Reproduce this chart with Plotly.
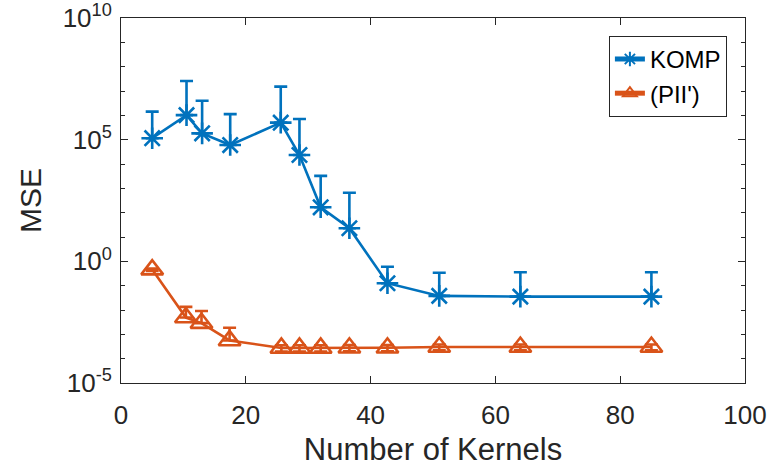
import plotly.graph_objects as go

# Number of kernels used by each method
komp_kernels = [5, 10.5, 13, 17.5, 25.6, 28.6, 32, 36.6, 42.7, 51, 64, 85]
pii_kernels = [5, 10.4, 12.9, 17.4, 25.7, 28.6, 32, 36.6, 42.7, 51, 64, 85]

# Mean squared error and upper spread, KOMP
komp_mse = [1.15e5, 1.02e6, 1.82e5, 6.0e4, 5.0e5, 2.34e4, 166, 22.9, 0.126, 0.038, 0.0355, 0.0355]
komp_err_up = [1.3e6, 2.47e7, 3.8e6, 1.06e6, 1.46e7, 6.85e5, 3070, 638, 0.477, 0.30, 0.32, 0.32]

# Mean squared error and spread, (PII')
pii_mse = [0.457, 4.9e-3, 2.9e-3, 5.6e-4, 2.75e-4, 2.75e-4, 2.75e-4, 2.8e-4, 2.8e-4, 3.0e-4, 3.0e-4, 3.0e-4]
pii_err_up = [0.05, 8.6e-3, 6.2e-3, 1.3e-3, 8e-5, 8e-5, 8e-5, 8e-5, 8e-5, 8e-5, 8e-5, 8e-5]
pii_err_down = [0.05, 0, 0, 0, 8e-5, 8e-5, 8e-5, 8e-5, 8e-5, 8e-5, 8e-5, 8e-5]

x_ticks = [0, 20, 40, 60, 80, 100]
y_major = [1e-5, 1e0, 1e5, 1e10]
y_major_text = ["10<sup>-5</sup>", "10<sup>0</sup>", "10<sup>5</sup>", "10<sup>10</sup>"]
y_minor = [10.0 ** k for k in range(-5, 11) if k % 5 != 0]

BLUE = "#0072BD"
ORANGE = "#D95319"
AXIS = "#262626"
FONT = "Liberation Sans, Arial, Helvetica, sans-serif"
LW = 2.6

fig = go.Figure()

fig.add_trace(go.Scatter(
    x=komp_kernels, y=komp_mse, name="KOMP",
    mode="lines+markers",
    line=dict(color=BLUE, width=LW),
    marker=dict(symbol="asterisk-open", size=18, color=BLUE,
                line=dict(color=BLUE, width=LW)),
    error_y=dict(type="data", symmetric=False, array=komp_err_up,
                 arrayminus=[0] * len(komp_err_up),
                 color=BLUE, thickness=LW, width=6.5),
))

fig.add_trace(go.Scatter(
    x=pii_kernels, y=pii_mse, name="(PII')",
    mode="lines+markers",
    line=dict(color=ORANGE, width=LW),
    marker=dict(symbol="triangle-up-open", size=19, color=ORANGE,
                line=dict(color=ORANGE, width=LW)),
    error_y=dict(type="data", symmetric=False, array=pii_err_up,
                 arrayminus=pii_err_down,
                 color=ORANGE, thickness=LW, width=6.5),
))

fig.update_layout(
    width=769, height=467,
    margin=dict(l=121, r=24, t=18, b=84, autoexpand=False),
    paper_bgcolor="white", plot_bgcolor="white",
    font=dict(family=FONT, color=AXIS),
    showlegend=True,
    legend=dict(
        x=0.971, y=0.951, xanchor="right", yanchor="top",
        bgcolor="white", bordercolor=AXIS, borderwidth=1,
        font=dict(family=FONT, size=24, color="black"),
        tracegroupgap=0, itemsizing="constant",
    ),
    xaxis=dict(
        range=[0, 100], tickvals=x_ticks, automargin=False,
        ticks="inside", ticklen=7, tickwidth=1, tickcolor=AXIS,
        showline=True, linecolor=AXIS, linewidth=1, mirror="ticks",
        showgrid=False, zeroline=False,
        tickfont=dict(family=FONT, size=26, color=AXIS),
        ticklabelstandoff=9,
        title=dict(text="Number of Kernels", standoff=24,
                   font=dict(family=FONT, size=31, color=AXIS)),
    ),
    yaxis=dict(
        type="log", range=[-5, 10], automargin=False,
        tickvals=y_major, ticktext=y_major_text,
        ticks="inside", ticklen=7, tickwidth=1, tickcolor=AXIS,
        minor=dict(tickvals=y_minor, ticks="inside", ticklen=4,
                   tickwidth=1, tickcolor=AXIS, showgrid=False),
        showline=True, linecolor=AXIS, linewidth=1, mirror="ticks",
        showgrid=False, zeroline=False,
        tickfont=dict(family=FONT, size=26, color=AXIS),
        ticklabelstandoff=3,
        title=dict(text="MSE", standoff=12,
                   font=dict(family=FONT, size=30, color=AXIS)),
    ),
)

fig.write_html("out.html")
